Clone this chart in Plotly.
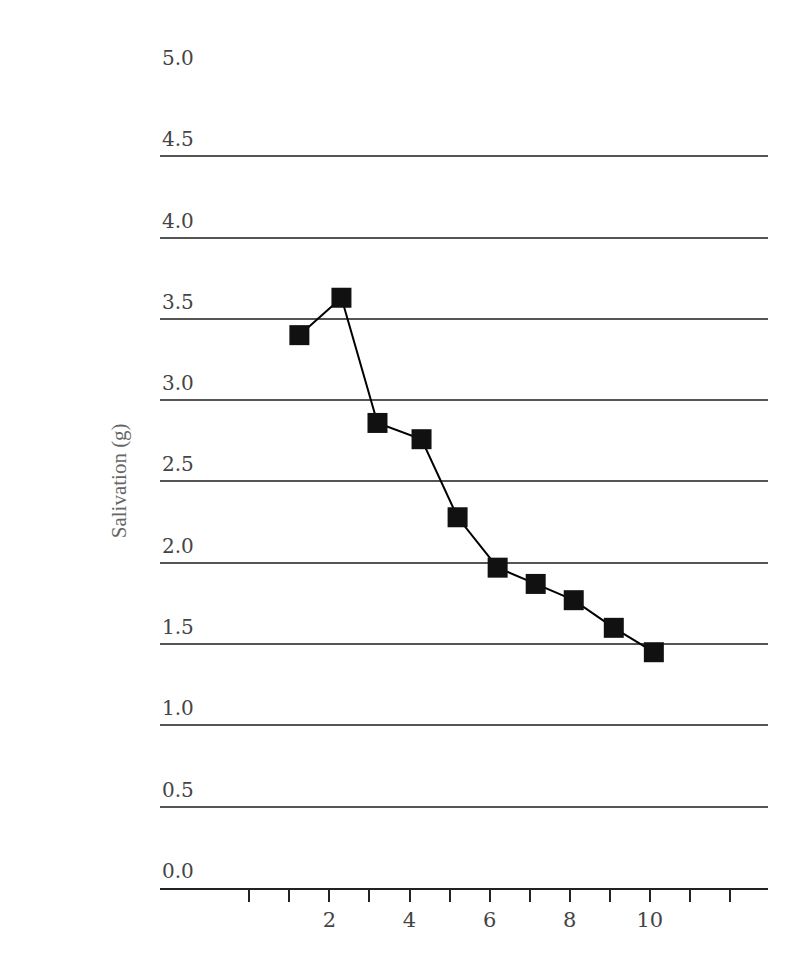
import plotly.graph_objects as go

trial = [1.25, 2.3, 3.2, 4.3, 5.2, 6.2, 7.15, 8.1, 9.1, 10.1]
salivation = [3.40, 3.63, 2.86, 2.76, 2.28, 1.97, 1.87, 1.77, 1.60, 1.45]
y_ticks = [0.0, 0.5, 1.0, 1.5, 2.0, 2.5, 3.0, 3.5, 4.0, 4.5, 5.0]
x_ticks = list(range(0, 13))
x_labels = ["", "", "2", "", "4", "", "6", "", "8", "", "10", "", ""]

fig = go.Figure()
fig.add_trace(go.Scatter(x=trial, y=salivation, mode="lines+markers",
                         line=dict(color="black", width=2),
                         marker=dict(symbol="square", size=20, color="#111"),
                         cliponaxis=False))

for v in y_ticks:
    fig.add_annotation(x=-2.23, y=v, xref="x", yref="y", text="%.1f" % v,
                       showarrow=False, xanchor="left", yanchor="bottom", yshift=3,
                       font=dict(family="DejaVu Serif", size=20, color="#444"))

fig.add_annotation(x=-0.09, y=0.5, xref="paper", yref="paper", text="Salivation (g)",
                   textangle=-90, showarrow=False,
                   font=dict(family="Liberation Serif", size=21, color="#666"))

fig.update_layout(
    width=790, height=966, showlegend=False,
    plot_bgcolor="white", paper_bgcolor="white",
    margin=dict(l=152, r=30, t=66, b=86),
    xaxis=dict(range=[-2.23, 12.95], tickvals=x_ticks, ticktext=x_labels,
               ticks="outside", ticklen=12, tickwidth=2, tickcolor="#222",
               showgrid=False, zeroline=False, showline=True, linecolor="#222", linewidth=2,
               tickfont=dict(family="DejaVu Serif", size=21, color="#444")),
    yaxis=dict(range=[0, 5.006], tickvals=y_ticks, showticklabels=False,
               showgrid=True, gridcolor="#555", gridwidth=1.5, zeroline=False),
)

fig.write_html("out.html")
